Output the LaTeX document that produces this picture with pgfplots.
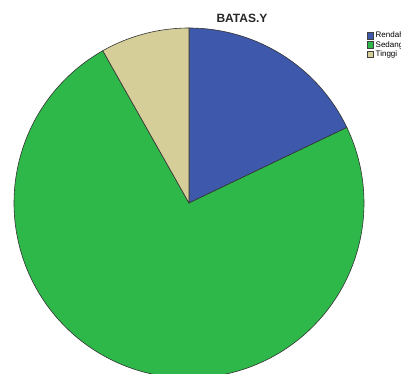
\documentclass[border=0pt]{standalone}
\usepackage{pgfplots}
\pgfplotsset{compat=1.18}
\usepackage{fontspec}
\setmainfont{Liberation Sans}
\definecolor{cR}{HTML}{3E58AC}
\definecolor{cS}{HTML}{2EB84A}
\definecolor{cT}{HTML}{D5CE99}
% percentages
\def\vR{17.9}
\def\vS{73.9}
\def\vT{8.2}
\pgfmathsetmacro{\aA}{90}
\pgfmathsetmacro{\aB}{90-3.6*\vR}
\pgfmathsetmacro{\aC}{\aB-3.6*\vS}
\pgfmathsetmacro{\aD}{\aC-3.6*\vT}
\begin{document}
\begin{tikzpicture}[x=1pt,y=1pt]
\begin{axis}[
  at={(0pt,0pt)}, anchor=south west,
  scale only axis, width=401pt, height=374pt,
  xmin=0, xmax=401, ymin=0, ymax=374,
  axis lines=none, clip=true,
  legend style={at={(axis cs:366.5,344)}, anchor=north west, draw=none, fill=none,
    font=\fontsize{8}{8.5}\selectfont, inner sep=0pt, row sep=-2pt,
    cells={anchor=west}},
  legend cell align=left,
  legend image code/.code={\draw[#1,draw=black!75,line width=0.5pt] (0pt,-3pt) rectangle (6.5pt,3.5pt);},
]
\addplot[fill=cR, draw=black!80, line width=0.6pt, domain=\aB:\aA, samples=80, variable=\t]
  ({189+175*cos(t)},{171+175*sin(t)}) -- (axis cs:189,171) -- cycle;
\addlegendentry{Rendah}
\addplot[fill=cS, draw=black!80, line width=0.6pt, domain=\aC:\aB, samples=200, variable=\t]
  ({189+175*cos(t)},{171+175*sin(t)}) -- (axis cs:189,171) -- cycle;
\addlegendentry{Sedang}
\addplot[fill=cT, draw=black!80, line width=0.6pt, domain=\aD:\aC, samples=40, variable=\t]
  ({189+175*cos(t)},{171+175*sin(t)}) -- (axis cs:189,171) -- cycle;
\addlegendentry{Tinggi}
\node[font=\bfseries\fontsize{12}{14}\selectfont, text=black!85] at (axis cs:242,356) {BATAS.Y};
\end{axis}
\pgfresetboundingbox
\useasboundingbox (0pt,0pt) rectangle (401pt,374pt);
\end{tikzpicture}
\end{document}
